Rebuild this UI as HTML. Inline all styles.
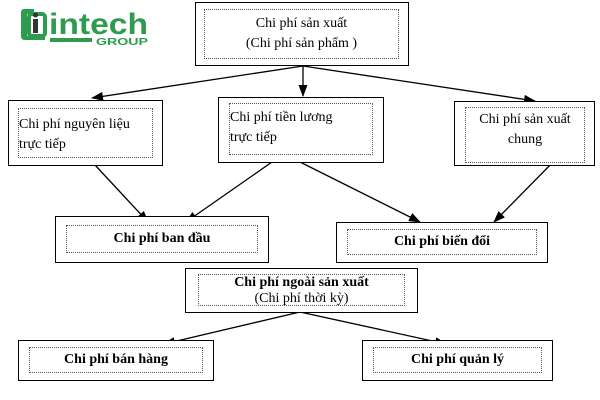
<!DOCTYPE html>
<html><head><meta charset="utf-8"><style>
body{margin:0;width:600px;height:400px;background:#fff;position:relative;font-family:"Liberation Serif",serif;overflow:hidden}
.b{position:absolute;border:1.5px solid #000;box-sizing:border-box;background:#fff}
.i{position:absolute;border:1px dotted #555;box-sizing:border-box;font-size:14px;color:#000;line-height:20px}
.bold{font-weight:bold;text-align:center}
</style></head><body>
<svg width="600" height="400" style="position:absolute;left:0;top:0">
<defs><marker id="a" markerWidth="12" markerHeight="9" refX="11" refY="4.5" orient="auto" markerUnits="userSpaceOnUse"><path d="M0,0L12,4.5L0,9z" fill="#000"/></marker></defs>
<g stroke="#000" stroke-width="1.3" fill="none" marker-end="url(#a)">
<line x1="303" y1="66" x2="92" y2="98"/>
<line x1="303" y1="66" x2="303" y2="96"/>
<line x1="303" y1="66" x2="535" y2="101"/>
<line x1="95" y1="165" x2="148" y2="222"/>
<line x1="272" y1="162" x2="186" y2="222"/>
<line x1="300" y1="162" x2="420" y2="222"/>
<line x1="560" y1="155" x2="494" y2="222"/>
<line x1="300" y1="312" x2="164" y2="344"/>
<line x1="300" y1="312" x2="446" y2="344"/>
</g>
<g>
<path d="M24 9 h10 v5 h-7 v22 h18 v4 h-20 q-4 0 -4 -4 v-23 q0 -4 3 -4z" fill="#2e9b4e"/>
<rect x="29" y="14" width="16" height="22" rx="3" fill="none" stroke="#2e9b4e" stroke-width="4"/>
<rect x="33" y="19" width="5" height="14" fill="#333"/>
<circle cx="35.5" cy="15" r="2.5" fill="#333"/>
<text x="49" y="34" font-family="Liberation Sans,sans-serif" font-weight="bold" font-size="30" fill="#2e9b4e" textLength="99" lengthAdjust="spacingAndGlyphs">intech</text>
<rect x="50" y="38" width="42" height="4" fill="#2e9b4e"/>
<text x="96" y="45" font-family="Liberation Sans,sans-serif" font-weight="bold" font-size="10" fill="#2e9b4e" textLength="52" lengthAdjust="spacingAndGlyphs">GROUP</text>
</g>
</svg>
<div class="b" style="left:195px;top:2px;width:214px;height:64px"><div class="i" style="left:8px;top:6px;width:195px;height:50px;text-align:center;padding-top:4px">Chi phí sản xuất<br>(Chi phí sản phẩm )</div></div>
<div class="b" style="left:8px;top:100px;width:155px;height:66px"><div class="i" style="left:9px;top:7px;width:135px;height:50px;padding-top:6px">Chi phí nguyên liệu<br>trực tiếp</div></div>
<div class="b" style="left:218px;top:97px;width:166px;height:66px"><div class="i" style="left:10px;top:5px;width:144px;height:52px;padding-top:4px">Chi phí tiền lương<br>trực tiếp</div></div>
<div class="b" style="left:454px;top:101px;width:141px;height:65px"><div class="i" style="left:10px;top:5px;width:120px;height:56px;text-align:center;padding-top:2px">Chi phí sản xuất<br>chung</div></div>
<div class="b" style="left:55px;top:216px;width:214px;height:47px"><div class="i bold" style="left:10px;top:8px;width:192px;height:28px;line-height:26px">Chi phí ban đầu</div></div>
<div class="b" style="left:336px;top:222px;width:212px;height:41px"><div class="i bold" style="left:10px;top:6px;width:190px;height:26px;line-height:24px">Chi phí biến đổi</div></div>
<div class="b" style="left:185px;top:268px;width:233px;height:45px"><div class="i bold" style="left:12px;top:5px;width:207px;height:32px;line-height:16px;padding-top:0px">Chi phí ngoài sản xuất<br><span style="font-weight:normal">(Chi phí thời kỳ)</span></div></div>
<div class="b" style="left:18px;top:340px;width:196px;height:41px"><div class="i bold" style="left:10px;top:6px;width:174px;height:26px;line-height:24px">Chi phí bán hàng</div></div>
<div class="b" style="left:362px;top:340px;width:191px;height:41px"><div class="i bold" style="left:10px;top:6px;width:169px;height:26px;line-height:24px">Chi phí quản lý</div></div>
</body></html>
